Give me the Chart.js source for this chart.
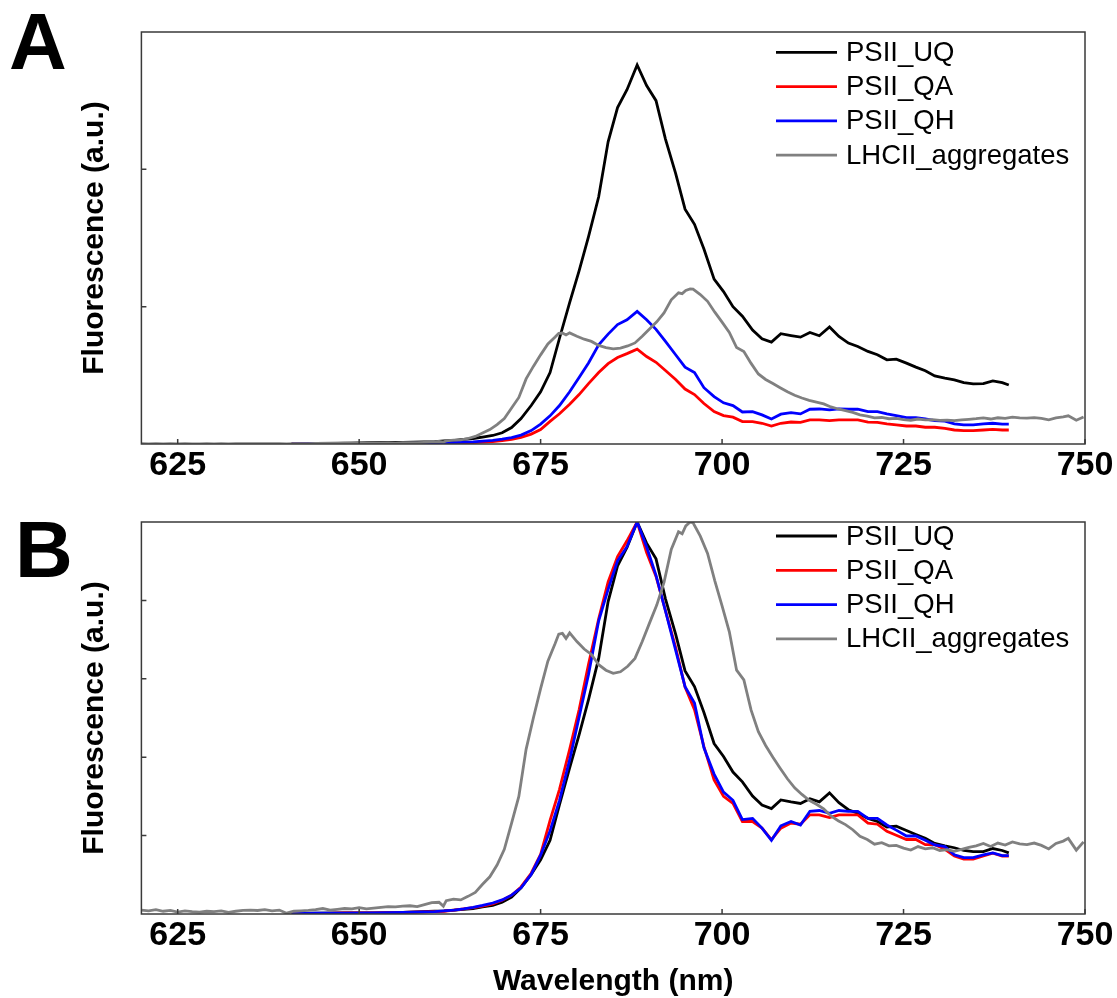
<!DOCTYPE html>
<html>
<head>
<meta charset="utf-8">
<script src="https://cdn.jsdelivr.net/npm/chart.js@4.4.1/dist/chart.umd.min.js"></script>
<style>
  html, body { margin: 0; padding: 0; background: #fff; overflow: hidden; }
  body { width: 1117px; height: 998px; position: relative; }
  .panel { position: absolute; left: 0; width: 1117px; }
  #panelA { top: 0; height: 495px; }
  #panelB { top: 495px; height: 515px; }
  .letter {
    position: absolute;
    font-family: 'Liberation Sans', Arial, sans-serif;
    font-weight: bold;
    font-size: 80px;
    line-height: 1;
    color: #000;
  }
</style>
</head>
<body>
<div id="panelA" class="panel"><canvas id="chartA"></canvas></div>
<div id="panelB" class="panel"><canvas id="chartB"></canvas></div>
<div class="letter" style="left:9px; top:2px;">A</div>
<div class="letter" style="left:15px; top:510px;">B</div>
<script>
const seriesLabels = ['PSII_UQ', 'PSII_QA', 'PSII_QH', 'LHCII_aggregates'];
const seriesColors = ['#000000', '#ff0000', '#0000ff', '#808080'];
const wavelengthTicks = [625, 650, 675, 700, 725, 750];
const yTicksA = [1, 2];
const yTicksB = [0.2, 0.4, 0.6, 0.8];

// PSII spectra share one wavelength grid (nm)
const wlPSII = [640.7, 644, 648, 652, 656, 660.4, 661.7, 663.1,
  664.4, 665.7, 667.0, 668.4, 669.7, 671.0, 672.3, 673.7, 675.0, 676.3,
  677.6, 679.0, 680.3, 681.6, 683.0, 684.3, 685.6, 686.9, 688.3, 689.6,
  690.9, 692.2, 693.6, 694.9, 696.2, 697.5, 698.9, 700.2, 701.5, 702.8,
  704.2, 705.5, 706.8, 708.1, 709.5, 710.8, 712.1, 713.4, 714.8, 716.1,
  717.4, 718.7, 720.1, 721.4, 722.7, 724.0, 725.4, 726.7, 728.0, 729.3,
  730.7, 732.0, 733.3, 734.6, 736.0, 737.3, 738.6, 739.5];

// panel A, raw fluorescence
const uqA = [0.003, 0.005, 0.007, 0.009, 0.012, 0.018, 0.022, 0.027,
  0.033, 0.040, 0.050, 0.062, 0.082, 0.120, 0.185, 0.280, 0.380, 0.520,
  0.770, 1.030, 1.260, 1.510, 1.800, 2.200, 2.450, 2.580, 2.760, 2.610,
  2.500, 2.220, 1.970, 1.710, 1.600, 1.420, 1.200, 1.110, 1.000, 0.930,
  0.830, 0.766, 0.742, 0.803, 0.790, 0.778, 0.812, 0.788, 0.852, 0.783,
  0.735, 0.710, 0.674, 0.650, 0.613, 0.618, 0.589, 0.560, 0.533, 0.496,
  0.480, 0.467, 0.447, 0.438, 0.440, 0.460, 0.447, 0.430];
const qaA = [0.001, 0.001, 0.002, 0.002, 0.003, 0.004, 0.005, 0.007,
  0.009, 0.011, 0.014, 0.018, 0.024, 0.033, 0.048, 0.072, 0.105, 0.165,
  0.220, 0.290, 0.360, 0.440, 0.520, 0.585, 0.630, 0.658, 0.691, 0.637,
  0.595, 0.535, 0.470, 0.400, 0.360, 0.295, 0.236, 0.207, 0.195, 0.163,
  0.163, 0.151, 0.131, 0.151, 0.160, 0.158, 0.175, 0.175, 0.170, 0.175,
  0.175, 0.175, 0.160, 0.158, 0.146, 0.139, 0.131, 0.131, 0.122, 0.122,
  0.114, 0.102, 0.097, 0.097, 0.102, 0.107, 0.102, 0.102];
const qhA = [0.001, 0.002, 0.002, 0.003, 0.004, 0.006, 0.008, 0.010,
  0.013, 0.016, 0.021, 0.027, 0.035, 0.046, 0.065, 0.098, 0.145, 0.205,
  0.280, 0.380, 0.485, 0.590, 0.723, 0.800, 0.870, 0.905, 0.966, 0.905,
  0.835, 0.747, 0.650, 0.560, 0.520, 0.410, 0.345, 0.300, 0.280, 0.233,
  0.236, 0.212, 0.182, 0.217, 0.228, 0.219, 0.253, 0.255, 0.248, 0.255,
  0.253, 0.253, 0.236, 0.236, 0.219, 0.207, 0.192, 0.192, 0.182, 0.170,
  0.166, 0.146, 0.139, 0.139, 0.146, 0.151, 0.144, 0.144];

// panel B, normalised to peak
const uqB = [0.001, 0.002, 0.003, 0.003, 0.004, 0.007, 0.008, 0.010,
  0.012, 0.014, 0.018, 0.022, 0.030, 0.043, 0.067, 0.101, 0.138, 0.188,
  0.279, 0.373, 0.457, 0.547, 0.652, 0.797, 0.888, 0.935, 1.000, 0.946,
  0.906, 0.804, 0.714, 0.620, 0.580, 0.514, 0.435, 0.402, 0.362, 0.337,
  0.301, 0.278, 0.269, 0.291, 0.286, 0.282, 0.294, 0.286, 0.309, 0.284,
  0.266, 0.257, 0.244, 0.236, 0.222, 0.224, 0.213, 0.203, 0.193, 0.180,
  0.174, 0.169, 0.162, 0.159, 0.159, 0.167, 0.162, 0.156];
const qaB = [0.001, 0.001, 0.003, 0.003, 0.004, 0.006, 0.007, 0.010,
  0.013, 0.016, 0.020, 0.026, 0.035, 0.048, 0.069, 0.104, 0.152, 0.239,
  0.318, 0.420, 0.521, 0.637, 0.753, 0.847, 0.912, 0.952, 1.000, 0.922,
  0.861, 0.774, 0.680, 0.579, 0.521, 0.427, 0.342, 0.300, 0.282, 0.236,
  0.236, 0.219, 0.190, 0.219, 0.232, 0.229, 0.253, 0.253, 0.246, 0.253,
  0.253, 0.253, 0.232, 0.229, 0.211, 0.201, 0.190, 0.190, 0.177, 0.177,
  0.165, 0.148, 0.140, 0.140, 0.148, 0.155, 0.148, 0.148];
const qhB = [0.001, 0.002, 0.002, 0.003, 0.004, 0.006, 0.008, 0.010,
  0.013, 0.017, 0.022, 0.028, 0.036, 0.048, 0.067, 0.101, 0.150, 0.212,
  0.290, 0.393, 0.502, 0.611, 0.748, 0.828, 0.901, 0.937, 1.000, 0.937,
  0.864, 0.773, 0.673, 0.580, 0.538, 0.424, 0.357, 0.311, 0.290, 0.241,
  0.244, 0.219, 0.188, 0.225, 0.236, 0.227, 0.262, 0.264, 0.257, 0.264,
  0.262, 0.262, 0.244, 0.244, 0.227, 0.214, 0.199, 0.199, 0.188, 0.176,
  0.172, 0.151, 0.144, 0.144, 0.151, 0.156, 0.149, 0.149];

// LHCII aggregates, measured over the full range (nm)
const wlLHCII = [620, 621, 622, 623, 624, 625, 626, 627, 628, 629,
  630, 631, 632, 633, 634, 635, 636, 637, 638, 639,
  640, 641, 642, 643, 644, 645, 646, 647, 648, 649,
  650, 651, 652, 653, 654, 655, 656, 657, 658, 659,
  660, 661, 661.6, 662, 663, 664, 665, 666, 667, 668,
  669, 670, 671, 672, 673, 674, 675, 676, 677, 677.5,
  678, 678.5, 679, 680, 681, 682, 683, 684, 685, 686,
  687, 688, 689, 690, 691, 692, 693, 694, 694.5, 695,
  695.6, 696, 697, 698, 699, 700, 701, 702, 703, 704,
  705, 706, 707, 708, 709, 710, 711, 712, 713, 714,
  715, 716, 717, 718, 719, 720, 721, 722, 723, 724,
  725, 726, 727, 728, 729, 730, 731, 732, 733, 734,
  735, 736, 737, 738, 739, 740, 741, 742, 743, 744,
  745, 746, 747, 747.7, 748.8, 749.8];
const lhcA = [0.002, 0.001, 0.002, 0.001, 0.002, 0.001, 0.002, 0.001, 0.001, 0.002,
  0.001, 0.002, 0.001, 0.002, 0.002, 0.003, 0.002, 0.003, 0.002, 0.003,
  0.001, 0.002, 0.003, 0.003, 0.004, 0.005, 0.004, 0.005, 0.006, 0.005,
  0.006, 0.005, 0.006, 0.007, 0.008, 0.007, 0.009, 0.010, 0.009, 0.012,
  0.016, 0.018, 0.014, 0.022, 0.028, 0.030, 0.040, 0.055, 0.080, 0.105,
  0.141, 0.186, 0.262, 0.339, 0.474, 0.565, 0.649, 0.728, 0.779, 0.806,
  0.808, 0.794, 0.809, 0.785, 0.763, 0.747, 0.718, 0.702, 0.693, 0.698,
  0.714, 0.736, 0.785, 0.838, 0.890, 0.955, 1.050, 1.101, 1.095, 1.118,
  1.129, 1.127, 1.088, 1.039, 0.960, 0.887, 0.813, 0.702, 0.674, 0.587,
  0.510, 0.470, 0.440, 0.410, 0.380, 0.355, 0.335, 0.318, 0.305, 0.292,
  0.270, 0.255, 0.243, 0.230, 0.212, 0.203, 0.190, 0.193, 0.184, 0.186,
  0.178, 0.173, 0.182, 0.175, 0.178, 0.172, 0.174, 0.170, 0.175, 0.180,
  0.184, 0.190, 0.182, 0.191, 0.187, 0.195, 0.190, 0.188, 0.192, 0.186,
  0.176, 0.190, 0.197, 0.205, 0.173, 0.196];
const lhcB = [0.010, 0.008, 0.011, 0.007, 0.009, 0.005, 0.008, 0.006, 0.005, 0.007,
  0.006, 0.008, 0.004, 0.007, 0.009, 0.010, 0.009, 0.011, 0.008, 0.010,
  0.002, 0.007, 0.008, 0.009, 0.011, 0.014, 0.010, 0.012, 0.014, 0.013,
  0.016, 0.013, 0.015, 0.017, 0.019, 0.018, 0.020, 0.021, 0.019, 0.024,
  0.029, 0.030, 0.020, 0.034, 0.038, 0.036, 0.045, 0.055, 0.076, 0.095,
  0.125, 0.165, 0.232, 0.300, 0.420, 0.500, 0.575, 0.645, 0.690, 0.714,
  0.716, 0.703, 0.717, 0.695, 0.676, 0.662, 0.636, 0.622, 0.614, 0.618,
  0.632, 0.652, 0.695, 0.742, 0.788, 0.846, 0.930, 0.975, 0.970, 0.990,
  1.000, 0.998, 0.964, 0.920, 0.850, 0.786, 0.720, 0.622, 0.597, 0.520,
  0.465, 0.430, 0.400, 0.372, 0.345, 0.322, 0.305, 0.290, 0.280, 0.268,
  0.250, 0.238, 0.228, 0.215, 0.198, 0.190, 0.178, 0.182, 0.174, 0.175,
  0.168, 0.163, 0.172, 0.166, 0.169, 0.162, 0.164, 0.160, 0.165, 0.170,
  0.174, 0.180, 0.172, 0.181, 0.176, 0.184, 0.179, 0.177, 0.181, 0.175,
  0.166, 0.180, 0.186, 0.193, 0.163, 0.184];

const FONT = "'Liberation Sans', Arial, sans-serif";

function toPoints(xs, ys) {
  return xs.map((x, i) => ({ x: x, y: ys[i] }));
}

// box around the plot area plus short inward tick marks
const frameTicks = {
  id: 'frameTicks',
  afterDatasetsDraw(chart, args, opts) {
    const { ctx, chartArea: a, scales } = chart;
    ctx.save();
    ctx.strokeStyle = '#3a3a3a';
    ctx.lineWidth = 1.5;
    ctx.strokeRect(a.left, a.top, a.right - a.left, a.bottom - a.top);
    ctx.beginPath();
    scales.x.ticks.forEach((t) => {
      const px = scales.x.getPixelForValue(t.value);
      ctx.moveTo(px, a.bottom);
      ctx.lineTo(px, a.bottom - 5);
    });
    opts.yTicks.forEach((v) => {
      const py = scales.y.getPixelForValue(v);
      ctx.moveTo(a.left, py);
      ctx.lineTo(a.left + 5, py);
    });
    ctx.stroke();
    ctx.restore();
  },
};

// legend drawn inside the plot, top right, like the original figure
const lineLegend = {
  id: 'lineLegend',
  afterDraw(chart, args, opts) {
    const { ctx, chartArea: a } = chart;
    ctx.save();
    ctx.font = '27.5px ' + FONT;
    ctx.textBaseline = 'middle';
    ctx.textAlign = 'left';
    chart.data.datasets.forEach((ds, i) => {
      const y = a.top + opts.top + i * opts.rowGap;
      ctx.strokeStyle = ds.borderColor;
      ctx.lineWidth = 2.8;
      ctx.beginPath();
      ctx.moveTo(opts.x, y);
      ctx.lineTo(opts.x + 61, y);
      ctx.stroke();
      ctx.fillStyle = '#000';
      ctx.fillText(ds.label, opts.x + 70, y + 1);
    });
    ctx.restore();
  },
};

function buildPanel(canvasId, cfg) {
  const drawOrder = [3, 2, 1, 0];
  return new Chart(document.getElementById(canvasId), {
    type: 'line',
    data: {
      datasets: cfg.series.map((s, i) => ({
        label: seriesLabels[i],
        data: toPoints(s.x, s.y),
        borderColor: seriesColors[i],
        backgroundColor: seriesColors[i],
        borderWidth: 2.8,
        pointRadius: 0,
        tension: 0,
        fill: false,
        order: drawOrder[i],
      })),
    },
    options: {
      animation: false,
      responsive: true,
      maintainAspectRatio: false,
      layout: { padding: { top: cfg.padTop, right: 32, bottom: cfg.padBottom, left: 0 } },
      plugins: {
        legend: { display: false },
        tooltip: { enabled: false },
        frameTicks: { yTicks: cfg.yTicks },
        lineLegend: { x: 776, top: cfg.legendTop, rowGap: 34.3 },
      },
      scales: {
        x: {
          type: 'linear',
          min: 620,
          max: 750,
          afterBuildTicks: (scale) => {
            scale.ticks = wavelengthTicks.map((v) => ({ value: v }));
          },
          afterFit: (scale) => {
            scale.height = cfg.xHeight;
          },
          grid: { display: false, drawTicks: false },
          border: { display: false },
          ticks: {
            color: '#000',
            padding: 1,
            maxRotation: 0,
            autoSkip: false,
            font: { family: FONT, size: 34, weight: 'bold' },
          },
          title: {
            display: cfg.showXTitle,
            text: 'Wavelength (nm)',
            color: '#000',
            padding: { top: 0, bottom: 0 },
            font: { family: FONT, size: 30, weight: 'bold', lineHeight: 1 },
          },
        },
        y: {
          min: 0,
          max: cfg.yMax,
          afterFit: (scale) => {
            scale.width = 141.4;
          },
          grid: { display: false, drawTicks: false },
          border: { display: false },
          ticks: { display: false },
          title: {
            display: true,
            text: 'Fluorescence (a.u.)',
            color: '#000',
            padding: { top: 80, bottom: 0 },
            font: { family: FONT, size: 30, weight: 'bold', lineHeight: 1 },
          },
        },
      },
    },
    plugins: [frameTicks, lineLegend],
  });
}

buildPanel('chartA', {
  series: [
    { x: wlPSII, y: uqA },
    { x: wlPSII, y: qaA },
    { x: wlPSII, y: qhA },
    { x: wlLHCII, y: lhcA },
  ],
  yMax: 3,
  yTicks: yTicksA,
  padTop: 32,
  padBottom: 0,
  xHeight: 51,
  showXTitle: false,
  legendTop: 20.3,
});

buildPanel('chartB', {
  series: [
    { x: wlPSII, y: uqB },
    { x: wlPSII, y: qaB },
    { x: wlPSII, y: qhB },
    { x: wlLHCII, y: lhcB },
  ],
  yMax: 1,
  yTicks: yTicksB,
  padTop: 27,
  padBottom: 13,
  xHeight: 83,
  showXTitle: true,
  legendTop: 14,
});
</script>
</body>
</html>
